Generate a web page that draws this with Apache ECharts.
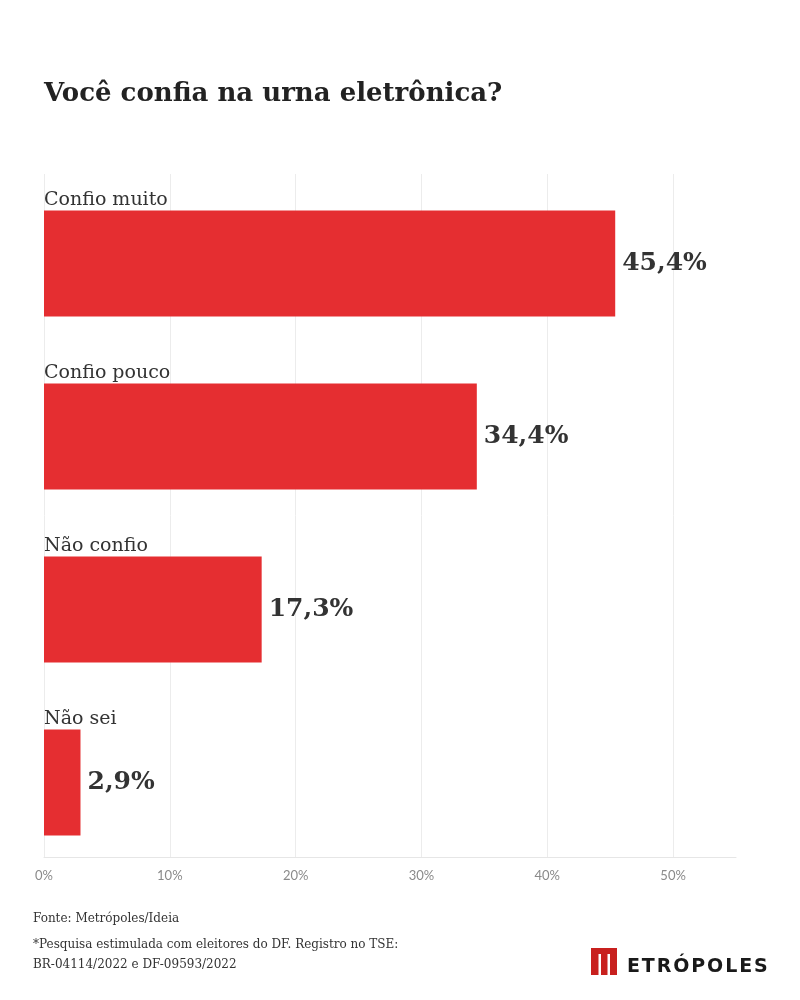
<!DOCTYPE html>
<html><head><meta charset="utf-8">
<script src="https://cdn.jsdelivr.net/npm/echarts@6/dist/echarts.min.js"></script>
<style>html,body{margin:0;padding:0;background:#fff}#c{width:800px;height:1000px}</style>
</head><body><div id="c"></div>
<script>
const categories = ['Confio muito', 'Confio pouco', 'Não confio', 'Não sei'];
const values = [45.4, 34.4, 17.3, 2.9];
const valueLabels = ['45,4%', '34,4%', '17,3%', '2,9%'];
const tickValues = [0, 10, 20, 30, 40, 50];
const title = 'Você confia na urna eletrônica?';
const source = 'Fonte: Metrópoles/Ideia';
const note = '*Pesquisa estimulada com eleitores do DF. Registro no TSE:\nBR-04114/2022 e DF-09593/2022';

const serif = "'DejaVu Serif', serif";
const chart = echarts.init(document.getElementById('c'));
chart.setOption({
  backgroundColor: '#fff',
  animation: false,
  grid: [
    {left: 44, right: 64, top: 177, height: 692},
    {left: 44, right: 64, top: 174, bottom: 143}
  ],
  xAxis: [
    {gridIndex: 0, type: 'value', min: 0, max: 55, show: false},
    {gridIndex: 1, type: 'value', min: 0, max: 55, interval: 10,
     axisLine: {show: true, lineStyle: {color: '#e6e6e6'}},
     axisTick: {show: false},
     splitLine: {show: true, showMaxLine: false, lineStyle: {color: '#ececec'}},
     axisLabel: {color: '#8a8a8a', fontFamily: 'Lato', fontSize: 13, margin: 12, showMaxLabel: false,
       formatter: v => tickValues.includes(v) ? v + '%' : ''}}
  ],
  yAxis: [
    {gridIndex: 0, type: 'category', data: categories, inverse: true,
     axisLine: {show: false}, axisTick: {show: false}, splitLine: {show: false},
     axisLabel: {inside: true, margin: 0, align: 'left', verticalAlign: 'bottom', padding: [0, 0, 54, 0],
       color: '#333', fontFamily: serif, fontSize: 19}},
    {gridIndex: 1, type: 'value', show: false}
  ],
  series: [{
    type: 'bar', xAxisIndex: 0, yAxisIndex: 0, data: values, barWidth: 106,
    itemStyle: {color: '#e52e31'},
    label: {show: true, position: 'right', distance: 7, color: '#333',
      fontFamily: serif, fontWeight: 'bold', fontSize: 25,
      formatter: p => valueLabels[p.dataIndex]}
  }],
  graphic: [
    {type: 'text', left: 44, top: 81, style: {text: title, fill: '#222', font: "bold 26px 'DejaVu Serif'"}},
    {type: 'text', left: 33, top: 913, style: {text: source, fill: '#333', font: "12px 'DejaVu Serif'"}},
    {type: 'text', left: 33, top: 935, style: {text: note, fill: '#333', font: "12px 'DejaVu Serif'", lineHeight: 20}},
    {type: 'group', left: 591, top: 948, children: [
      {type: 'rect', shape: {x: 0, y: 0, width: 26, height: 27}, style: {fill: '#c8201e'}},
      {type: 'rect', shape: {x: 7.5, y: 6, width: 2.5, height: 21}, style: {fill: '#fff'}},
      {type: 'rect', shape: {x: 16.5, y: 6, width: 2.5, height: 21}, style: {fill: '#fff'}}
    ]},
    {type: 'text', left: 627, top: 958, style: {text: 'E\u200AT\u200AR\u200AÓ\u200AP\u200AO\u200AL\u200AE\u200AS', fill: '#1a1a1a', font: "bold 19px 'DejaVu Sans'"}}
  ]
});
</script></body></html>
